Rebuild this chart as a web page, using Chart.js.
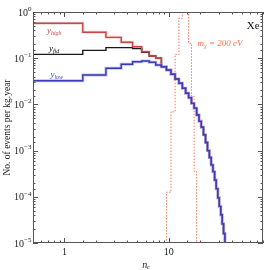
<!DOCTYPE html>
<html>
<head>
<meta charset="utf-8">
<script src="https://cdn.jsdelivr.net/npm/chart.js@4"></script>
<style>
  html, body { margin: 0; padding: 0; background: #fff; }
  #wrap { width: 266px; height: 270px; }
</style>
</head>
<body>
<div id="wrap"><canvas id="xeChart"></canvas></div>
<script>
// bins in number of electrons n_e
const nE = [1, 2, 3, 4, 5, 6, 7, 8, 9, 10, 11, 12, 13, 14, 15, 16, 17, 18,
  19, 20, 21, 22, 23, 24, 25, 26, 27, 28, 29, 30, 31, 32, 33, 34, 35];

// events per kg.year
const yHigh = [0.57, 0.364, 0.283, 0.221, 0.177, 0.138, 0.112, 0.1, 0.0655, 0.0556,
  0.045, 0.0355, 0.0286, 0.0224, 0.0174, 0.014, 0.0105, 0.0083, 0.0059, 0.0043,
  0.0032, 0.0022, 0.0015, 0.001, 7.1e-4, 4.9e-4, 3.5e-4, 2.3e-4, 1.5e-4, 9.5e-5,
  6.2e-5, 4.1e-5, 2.6e-5, 1.6e-5, 7e-6];
const yFid = [0.121, 0.148, 0.169, 0.169, 0.161, 0.134, 0.112, 0.1, 0.0655, 0.0556,
  0.045, 0.0355, 0.0286, 0.0224, 0.0174, 0.014, 0.0105, 0.0083, 0.0059, 0.0043,
  0.0032, 0.0022, 0.0015, 0.001, 7.1e-4, 4.9e-4, 3.5e-4, 2.3e-4, 1.5e-4, 9.5e-5,
  6.2e-5, 4.1e-5, 2.6e-5, 1.6e-5, 7e-6];
const yLow = [0.0326, 0.0433, 0.0604, 0.0738, 0.084, 0.0869, 0.0815, 0.0713, 0.0655, 0.0556,
  0.045, 0.0355, 0.0286, 0.0224, 0.0174, 0.014, 0.0105, 0.0083, 0.0059, 0.0043,
  0.0032, 0.0022, 0.0015, 0.001, 7.1e-4, 4.9e-4, 3.5e-4, 2.3e-4, 1.5e-4, 9.5e-5,
  6.2e-5, 4.1e-5, 2.6e-5, 1.6e-5, 7e-6];

// DM signal, m_chi = 200 eV (values above 1 run off the top)
const dmBins = [10, 11, 12, 13, 14, 15, 16, 17, 18];
const dmVals = [1.26e-4, 6.9e-3, 0.12, 0.73, 3, 3, 0.21, 0.015, 3.5e-4];

const xTickLabels = [1, 10];
const yTickExps = [0, -1, -2, -3, -4, -5];

const SERIF = "'Liberation Serif', 'DejaVu Serif', serif";
const TEXT = "#222";

// histogram outline: flat across each bin, edges at n +- 0.5
function steps(ns, vals) {
  const pts = [];
  ns.forEach((n, i) => {
    pts.push({ x: n - 0.5, y: vals[i] }, { x: n + 0.5, y: vals[i] });
  });
  return pts;
}

function stepsFromFloor(ns, vals) {
  const pts = steps(ns, vals);
  const floor = 1e-8;
  pts.unshift({ x: ns[0] - 0.5, y: floor });
  pts.push({ x: ns[ns.length - 1] + 0.5, y: floor });
  return pts;
}

function line(data, color, width, extra) {
  return Object.assign({
    data: data, borderColor: color, borderWidth: width,
    pointRadius: 0, fill: false, tension: 0, clip: 0
  }, extra || {});
}

// frame, inward ticks on all four sides, tick labels and axis titles
const frameTicks = {
  id: "frameTicks",
  afterDatasetsDraw(chart) {
    const { ctx, chartArea: a, scales } = chart;
    const xs = scales.x, ys = scales.y;
    ctx.save();
    ctx.strokeStyle = "#555";
    ctx.lineWidth = 1;
    ctx.strokeRect(a.left + 0.5, a.top + 0.5, a.right - a.left - 1, a.bottom - a.top - 1);
    const isMajor = v => Math.abs(Math.log10(v) - Math.round(Math.log10(v))) < 1e-6;
    ctx.beginPath();
    xs.ticks.forEach(t => {
      const px = Math.round(xs.getPixelForValue(t.value)) + 0.5;
      const len = isMajor(t.value) ? 5 : 2.5;
      ctx.moveTo(px, a.bottom); ctx.lineTo(px, a.bottom - len);
      ctx.moveTo(px, a.top); ctx.lineTo(px, a.top + len);
    });
    ys.ticks.forEach(t => {
      const py = Math.round(ys.getPixelForValue(t.value)) + 0.5;
      const len = isMajor(t.value) ? 5 : 2.5;
      ctx.moveTo(a.left, py); ctx.lineTo(a.left + len, py);
      ctx.moveTo(a.right, py); ctx.lineTo(a.right - len, py);
    });
    ctx.stroke();

    ctx.fillStyle = TEXT;
    ctx.textBaseline = "middle";
    // x tick labels
    ctx.font = "10px " + SERIF;
    ctx.textAlign = "center";
    xTickLabels.forEach(v => ctx.fillText(String(v), xs.getPixelForValue(v), a.bottom + 9));
    // y tick labels as 10 with a raised exponent
    ctx.textAlign = "left";
    yTickExps.forEach(e => {
      const py = ys.getPixelForValue(Math.pow(10, e));
      const exp = e < 0 ? "−" + (-e) : String(e);
      ctx.font = "10px " + SERIF;
      const w1 = ctx.measureText("10").width;
      ctx.font = "7px " + SERIF;
      const w2 = ctx.measureText(exp).width;
      const x0 = a.left - 1.5 - w1 - w2;
      ctx.font = "10px " + SERIF;
      ctx.fillText("10", x0, py + 1);
      ctx.font = "7px " + SERIF;
      ctx.fillText(exp, x0 + w1, py - 3);
    });
    // axis titles
    ctx.textAlign = "center";
    ctx.font = "italic 10px " + SERIF;
    ctx.fillText("nₑ", (a.left + a.right) / 2 - 2, 265);
    ctx.translate(7, (a.top + a.bottom) / 2);
    ctx.rotate(-Math.PI / 2);
    ctx.font = "9.5px " + SERIF;
    ctx.fillText("No. of events per kg.year", 0, 0);
    ctx.restore();
  }
};

// curve labels, placed in data coordinates
const labels = [
  { main: "y", sub: "high", x: 0.68, y: 0.39, color: "#c24a4a" },
  { main: "y", sub: "fid", x: 0.71, y: 0.158, color: "#111" },
  { main: "y", sub: "low", x: 0.735, y: 0.0433, color: "#4545c0" },
  { main: "m", sub: "χ", rest: " = 200 eV", x: 18.9, y: 0.208, color: "#ee6f50" }
];

const textLabels = {
  id: "textLabels",
  afterDatasetsDraw(chart) {
    const { ctx, scales } = chart;
    ctx.save();
    ctx.textBaseline = "middle";
    ctx.textAlign = "left";
    labels.forEach(l => {
      let px = scales.x.getPixelForValue(l.x);
      const py = scales.y.getPixelForValue(l.y);
      ctx.fillStyle = l.color;
      ctx.font = "italic 9px " + SERIF;
      ctx.fillText(l.main, px, py);
      px += ctx.measureText(l.main).width;
      ctx.font = "italic 6px " + SERIF;
      ctx.fillText(l.sub, px, py + 2.5);
      px += ctx.measureText(l.sub).width;
      if (l.rest) {
        ctx.font = "italic 9px " + SERIF;
        ctx.fillText(l.rest, px, py);
      }
    });
    ctx.fillStyle = "#111";
    ctx.font = "11px " + SERIF;
    ctx.fillText("Xe", scales.x.getPixelForValue(56), scales.y.getPixelForValue(0.49));
    ctx.restore();
  }
};

// Chart.js draws datasets from the last to the first, so the top layer is listed first
new Chart(document.getElementById("xeChart"), {
  type: "line",
  data: {
    datasets: [
      line(steps(nE, yLow), "#3a3ab8", 1.4),
      line(steps(nE, yLow), "rgba(150,150,235,0.6)", 3),
      line(steps(nE, yHigh), "#c44848", 1.4),
      line(steps(nE, yFid), "#1a1a1a", 1.4),
      line(steps(nE, yHigh), "rgba(220,130,130,0.35)", 3),
      line(stepsFromFloor(dmBins, dmVals), "#f07a5a", 1, { borderDash: [1.5, 1.5] })
    ]
  },
  options: {
    responsive: true,
    maintainAspectRatio: false,
    animation: false,
    layout: { padding: { top: 12, right: 3, left: 0, bottom: 0 } },
    plugins: { legend: { display: false }, tooltip: { enabled: false } },
    scales: {
      x: {
        type: "logarithmic",
        min: 0.5,
        max: 80,
        grid: { display: false },
        border: { display: false },
        ticks: { display: false, autoSkip: false },
        afterFit: s => { s.height = 27; }
      },
      y: {
        type: "logarithmic",
        min: 1e-5,
        max: 1,
        grid: { display: false },
        border: { display: false },
        ticks: { display: false, autoSkip: false },
        afterFit: s => { s.width = 33; }
      }
    }
  },
  plugins: [frameTicks, textLabels]
});
</script>
</body>
</html>
